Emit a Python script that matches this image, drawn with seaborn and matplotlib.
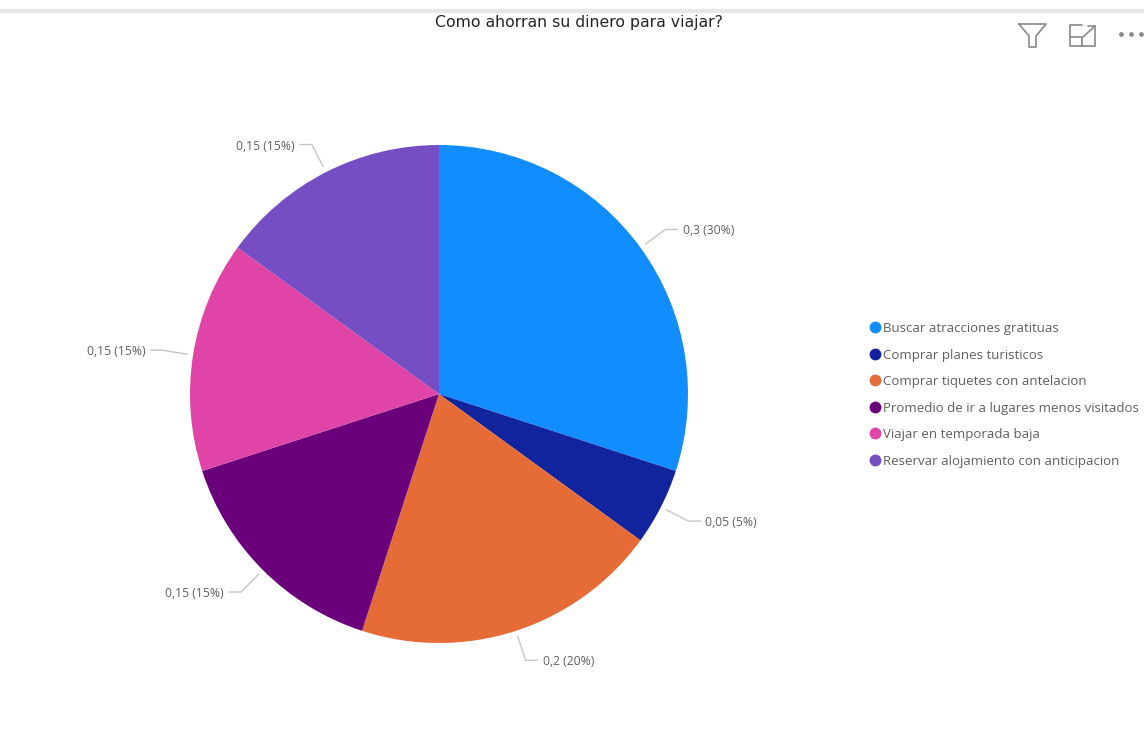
import numpy as np
import seaborn as sns
import matplotlib.pyplot as plt
from matplotlib.lines import Line2D

title = "Como ahorran su dinero para viajar?"
categories = ["Buscar atracciones gratituas", "Comprar planes turisticos",
              "Comprar tiquetes con antelacion", "Promedio de ir a lugares menos visitados",
              "Viajar en temporada baja", "Reservar alojamiento con anticipacion"]
values = [0.3, 0.05, 0.2, 0.15, 0.15, 0.15]
value_labels = ["0,3 (30%)", "0,05 (5%)", "0,2 (20%)", "0,15 (15%)", "0,15 (15%)", "0,15 (15%)"]
colors = ["#118DFF", "#12239E", "#E66C37", "#6B007B", "#E044A7", "#744EC2"]

sns.set_theme(style="white")
plt.rcParams['font.family'] = ['Open Sans', 'DejaVu Sans']
palette = sns.color_palette(colors)
text_gray = "#605E5C"

fig = plt.figure(figsize=(11.44, 7.55), dpi=100)
# axes in screen pixels, y is negated so that it reads like the picture
ax = fig.add_axes([0, 0, 1, 1])
cx, cy, radius = 439, -394, 249
wedges, _ = ax.pie(values, colors=palette, startangle=90, counterclock=False,
                   center=(cx, cy), radius=radius,
                   wedgeprops={"edgecolor": "none", "linewidth": 0})
ax.set_xlim(0, 1144)
ax.set_ylim(-755, 0)
ax.axis("off")

# leader lines and data labels follow each slice's middle angle
for wedge, lab in zip(wedges, value_labels):
    ang = np.deg2rad((wedge.theta1 + wedge.theta2) / 2)
    x0, y0 = cx + 255 * np.cos(ang), cy + 255 * np.sin(ang)
    x1, y1 = cx + 280 * np.cos(ang), cy + 280 * np.sin(ang)
    side = 1 if np.cos(ang) > 0 else -1
    x2 = x1 + side * 12
    ax.plot([x0, x1, x2], [y0, y1, y1], color="#C8C6C4", lw=1, solid_joinstyle="round")
    ax.text(x2 + side * 5, y1 - 1.5, lab, fontsize=8.7, color=text_gray, va="center",
            ha="left" if side > 0 else "right")

ax.text(579, -22, title, fontsize=11.3, color="#252423", ha="center", va="center",
        family="DejaVu Sans")

handles = [Line2D([], [], ls="", marker="o", ms=7.5, color=c) for c in palette]
ax.legend(handles, categories, loc="upper left", bbox_to_anchor=(866 / 1144, 1 - 322 / 755),
          frameon=False, fontsize=9.55, labelcolor=text_gray, handletextpad=-0.05,
          labelspacing=1.02, handlelength=1.3, borderpad=0, borderaxespad=0)

# report header strip and visual icons
ax.plot([0, 1144], [-10.5, -10.5], color="#E6E6E6", lw=3, solid_capstyle="butt")
icon = "#8A8886"
ax.plot([1019, 1046, 1036, 1036, 1029, 1029, 1019], [-24, -24, -36, -47, -47, -36, -24],
        color=icon, lw=1.2)
ax.plot([1082, 1070, 1070, 1095, 1095], [-25, -25, -46, -46, -33], color=icon, lw=1.2)
ax.plot([1070, 1082, 1082], [-37, -37, -46], color=icon, lw=1.2)
ax.plot([1083, 1095], [-37, -26], color=icon, lw=1.2)
ax.plot([1088, 1095, 1095], [-26, -26, -32], color=icon, lw=1.2)
ax.plot([1121, 1131, 1141], [-34, -34, -34], ls="", marker="o", ms=2.4, color=icon)

fig.savefig("out.png", dpi=100)
